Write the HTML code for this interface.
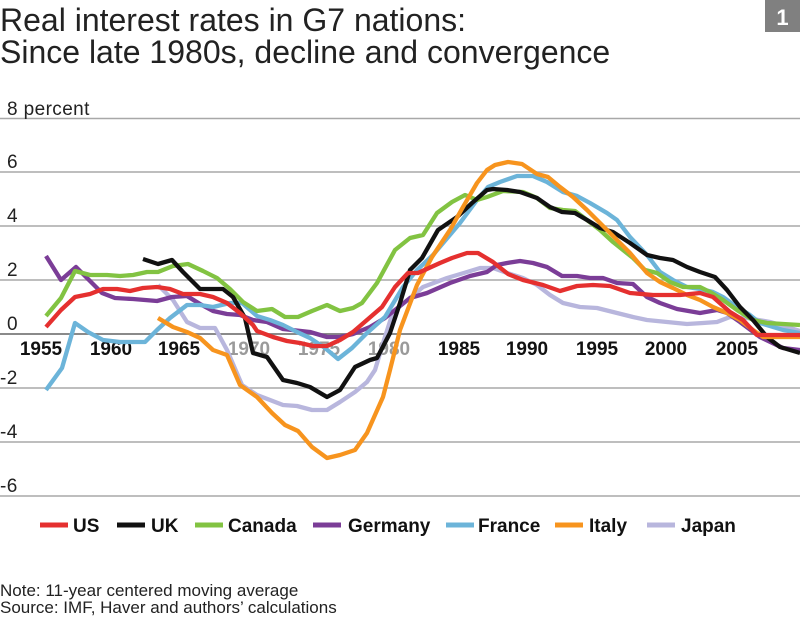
<!DOCTYPE html>
<html>
<head>
<meta charset="utf-8">
<style>
html,body{margin:0;padding:0;background:#fff;}
svg{display:block;}
text{font-family:"Liberation Sans",sans-serif;}
</style>
</head>
<body>
<svg width="800" height="620" viewBox="0 0 800 620" xmlns="http://www.w3.org/2000/svg">
<rect width="800" height="620" fill="#fff"/>
<!-- Title -->
<text x="0" y="31" font-size="32" fill="#222">Real interest rates in G7 nations:</text>
<text x="0" y="63" font-size="32" fill="#222">Since late 1980s, decline and convergence</text>
<rect x="765" y="0" width="35" height="32" fill="#808080"/>
<text x="782.5" y="25" font-size="22" font-weight="bold" fill="#fff" text-anchor="middle">1</text>

<!-- Grid -->
<g stroke="#a8a8a8" stroke-width="1.5">
<line x1="0" y1="118.5" x2="800" y2="118.5"/>
<line x1="0" y1="172" x2="800" y2="172"/>
<line x1="0" y1="226" x2="800" y2="226"/>
<line x1="0" y1="280" x2="800" y2="280"/>
<line x1="0" y1="388" x2="800" y2="388"/>
<line x1="0" y1="442" x2="800" y2="442"/>
<line x1="0" y1="496" x2="800" y2="496"/>
</g>
<line x1="0" y1="334" x2="800" y2="334" stroke="#7a7a7a" stroke-width="1.8"/>

<!-- Y labels -->
<g font-size="19" fill="#222" letter-spacing="0.4">
<text x="7" y="115">8 percent</text>
<text x="7" y="168">6</text>
<text x="7" y="222">4</text>
<text x="7" y="276">2</text>
<text x="7" y="330">0</text>
<text x="0" y="384">-2</text>
<text x="0" y="438">-4</text>
<text x="0" y="492">-6</text>
</g>

<!-- X labels -->
<g font-size="19" font-weight="bold" text-anchor="middle">
<text x="41" y="355" fill="#111">1955</text>
<text x="111" y="355" fill="#111">1960</text>
<text x="179" y="355" fill="#111">1965</text>
<text x="249" y="355" fill="#9a9a9a">1970</text>
<text x="319" y="355" fill="#9a9a9a">1975</text>
<text x="389" y="355" fill="#9a9a9a">1980</text>
<text x="459" y="355" fill="#111">1985</text>
<text x="527" y="355" fill="#111">1990</text>
<text x="597" y="355" fill="#111">1995</text>
<text x="666" y="355" fill="#111">2000</text>
<text x="737" y="355" fill="#111">2005</text>
</g>

<!-- Series -->
<g fill="none" stroke-width="4.3" stroke-linejoin="round" stroke-linecap="butt">
<!-- Japan -->
<polyline stroke="#b8b6dd" points="158,285 173,300 187,322 200,328 215,328 227,350 242,385 257,395 283,405 297,406 312,410 327,410 340,402 355,392 367,382 375,370 384,340 393,312 410,298 423,287 447,278 467,272 480,268 493,268 507,273 523,278 537,285 550,295 563,303 580,307 597,308 613,312 633,317 647,320 667,322 687,324 703,323 717,322 730,317 747,318 770,322 787,327 800,331"/>
<!-- Germany -->
<polyline stroke="#7b3d97" points="46,256 61,280 76,267 90,281 102,293 115,298 133,299 157,301 172,297 187,296 200,304 213,311 227,314 240,315 253,320 267,322 283,329 310,332 327,337 340,337 353,334 370,327 385,318 410,298 427,293 450,283 470,276 487,272 497,265 507,263 520,261 533,263 547,267 562,276 577,276 590,278 603,278 617,283 633,284 647,297 660,303 677,309 700,313 717,310 727,313 740,322 760,337 783,348 800,350"/>
<!-- France -->
<polyline stroke="#6cb4d9" points="46,390 62,368 75,323 88,332 103,340 120,342 145,342 157,330 170,318 187,305 200,305 213,307 230,303 242,303 257,316 270,320 283,325 297,332 310,338 325,348 338,359 352,348 367,333 385,317 403,287 417,270 433,255 460,223 477,200 488,187 500,182 517,176 533,176 547,182 563,192 577,196 590,203 607,213 617,220 630,237 647,255 660,272 673,280 687,287 700,289 713,292 723,297 737,307 750,315 760,323 783,330 800,333"/>
<!-- Canada -->
<polyline stroke="#82c342" points="46,316 61,298 75,271 90,275 107,275 120,276 133,275 147,272 158,272 173,266 188,264 203,271 217,278 230,289 243,302 257,311 272,309 285,317 298,317 312,311 327,305 340,311 353,308 362,303 377,283 395,250 410,238 423,235 437,213 452,202 465,195 477,200 487,197 503,191 523,192 537,198 550,208 563,210 575,211 587,220 600,230 613,242 633,258 645,270 657,273 670,282 683,287 700,287 710,292 723,300 737,310 753,320 767,323 800,325"/>
<!-- UK -->
<polyline stroke="#111111" points="143,259 158,264 172,260 183,272 200,289 223,289 233,297 245,318 253,353 267,357 283,380 297,383 310,387 327,397 340,390 355,367 370,360 377,358 390,333 400,303 410,270 422,258 438,230 457,217 472,203 487,190 493,189 507,190 520,192 537,198 550,207 562,212 575,213 587,220 600,228 613,232 630,243 647,255 660,258 673,260 687,267 700,272 715,277 727,290 740,307 753,320 767,337 780,347 800,353"/>
<!-- Italy -->
<polyline stroke="#f7941e" points="158,318 173,327 187,332 200,338 213,350 227,355 240,385 257,397 272,413 285,425 298,431 312,447 327,458 340,455 355,450 367,433 383,397 390,370 400,330 417,285 432,257 450,230 463,207 477,183 487,170 495,165 508,162 522,164 537,174 548,177 560,187 573,197 587,210 600,223 613,236 630,253 647,273 660,282 673,288 687,295 700,300 713,307 727,313 740,320 753,330 763,337 800,337"/>
<!-- US -->
<polyline stroke="#e5302f" points="46,327 61,310 75,297 90,294 103,289 117,289 130,291 143,288 157,287 170,289 183,294 200,294 213,297 227,303 240,313 253,325 257,331 273,337 287,341 300,343 313,346 327,346 340,340 353,332 360,326 382,307 395,287 408,273 418,273 440,263 452,258 467,253 478,253 493,262 508,274 523,280 543,285 560,291 577,286 593,285 610,286 630,293 653,295 680,295 700,293 713,297 730,312 743,320 757,335 800,335"/>
</g>

<!-- Legend -->
<g stroke-width="5">
<line x1="40" y1="525" x2="68" y2="525" stroke="#e5302f"/>
<line x1="117" y1="525" x2="145" y2="525" stroke="#111111"/>
<line x1="195" y1="525" x2="223" y2="525" stroke="#82c342"/>
<line x1="313" y1="525" x2="341" y2="525" stroke="#7b3d97"/>
<line x1="446" y1="525" x2="474" y2="525" stroke="#6cb4d9"/>
<line x1="555" y1="525" x2="583" y2="525" stroke="#f7941e"/>
<line x1="647" y1="525" x2="675" y2="525" stroke="#b8b6dd"/>
</g>
<g font-size="19" font-weight="bold" fill="#111">
<text x="73" y="532">US</text>
<text x="151" y="532">UK</text>
<text x="228" y="532">Canada</text>
<text x="348" y="532">Germany</text>
<text x="478" y="532">France</text>
<text x="589" y="532">Italy</text>
<text x="681" y="532">Japan</text>
</g>

<!-- Notes -->
<g font-size="17" fill="#222">
<text x="0" y="596">Note: 11-year centered moving average</text>
<text x="0" y="613">Source: IMF, Haver and authors’ calculations</text>
</g>
</svg>
</body>
</html>
